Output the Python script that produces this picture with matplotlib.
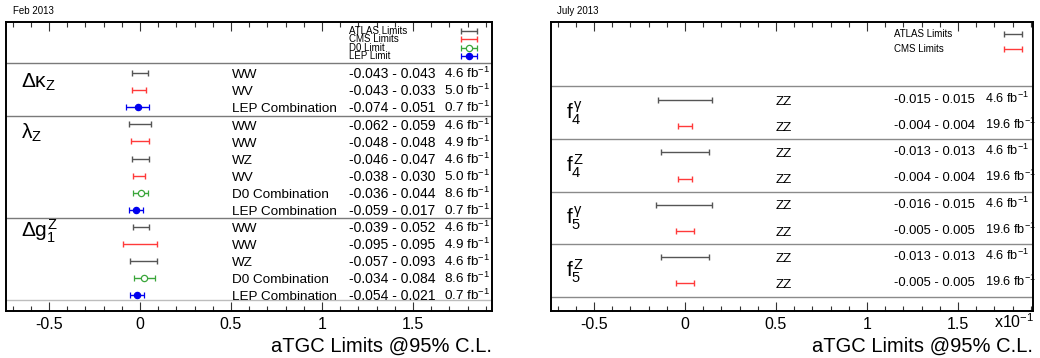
import numpy as np
import matplotlib
matplotlib.use("Agg")
import matplotlib.pyplot as plt
import matplotlib.ticker as tick

plt.rcParams['font.family'] = ['Liberation Sans', 'DejaVu Sans']
plt.rcParams['mathtext.fontset'] = 'custom'
plt.rcParams['mathtext.rm'] = 'Liberation Sans'
plt.rcParams['mathtext.it'] = 'Liberation Sans'
plt.rcParams['mathtext.bf'] = 'Liberation Sans:bold'

# ---- data: left panel (Feb 2013), WWZ couplings ----
left_groups = [r'$\Delta\kappa_{Z}$', r'$\lambda_{Z}$', r'$\Delta g^{Z}_{1}$']
left_group_sizes = [3, 6, 5]
left_exp = ['ATLAS', 'CMS', 'LEP',
            'ATLAS', 'CMS', 'ATLAS', 'CMS', 'D0', 'LEP',
            'ATLAS', 'CMS', 'ATLAS', 'D0', 'LEP']
left_chan = ['WW', 'WV', 'LEP Combination',
             'WW', 'WW', 'WZ', 'WV', 'D0 Combination', 'LEP Combination',
             'WW', 'WW', 'WZ', 'D0 Combination', 'LEP Combination']
left_lo = [-0.043, -0.043, -0.074,
           -0.062, -0.048, -0.046, -0.038, -0.036, -0.059,
           -0.039, -0.095, -0.057, -0.034, -0.054]
left_hi = [0.043, 0.033, 0.051,
           0.059, 0.048, 0.047, 0.030, 0.044, 0.017,
           0.052, 0.095, 0.093, 0.084, 0.021]
left_central = [None, None, -0.011,
                None, None, None, None, 0.004, -0.021,
                None, None, None, 0.024, -0.017]
left_lumi = ['4.6', '5.0', '0.7',
             '4.6', '4.9', '4.6', '5.0', '8.6', '0.7',
             '4.6', '4.9', '4.6', '8.6', '0.7']

# ---- data: right panel (July 2013), ZZ neutral couplings ----
right_groups = [r'$f^{\gamma}_{4}$', r'$f^{Z}_{4}$', r'$f^{\gamma}_{5}$', r'$f^{Z}_{5}$']
right_exp = ['ATLAS', 'CMS'] * 4
right_chan = ['ZZ'] * 8
right_lo = [-0.015, -0.004, -0.013, -0.004, -0.016, -0.005, -0.013, -0.005]
right_hi = [0.015, 0.004, 0.013, 0.004, 0.015, 0.005, 0.013, 0.005]
right_lumi = ['4.6', '19.6'] * 4
right_scale = 10  # axis shown in units of x10^-1

colors = {'ATLAS': '#555555', 'CMS': '#ff3a3a', 'D0': '#3aa63a', 'LEP': '#0000ee'}
markers = {'ATLAS': None, 'CMS': None, 'D0': 'o', 'LEP': 'o'}
legend_names = {'ATLAS': 'ATLAS Limits', 'CMS': 'CMS Limits', 'D0': 'D0 Limit', 'LEP': 'LEP Limit'}

W, H = 1040, 358


def draw_bar(ax, exp, y, lo, hi, central=None, hw_cap=2.4):
    c = colors[exp]
    if central is None:
        ax.errorbar(lo, y, xerr=[[0], [hi - lo]], fmt='none', ecolor=c,
                    elinewidth=1.0, capsize=hw_cap, capthick=1.0)
    else:
        face = 'white' if exp == 'D0' else c
        ax.errorbar(central, y, xerr=[[central - lo], [hi - central]], fmt='o',
                    color=c, mfc=face, mec=c, ms=4.5, mew=0.9,
                    elinewidth=1.0, capsize=hw_cap, capthick=1.0)


def style_axes(ax, xlim, ylim):
    ax.set_xlim(*xlim)
    ax.set_ylim(*ylim)
    ax.set_yticks([])
    ax.xaxis.set_major_locator(tick.MultipleLocator(0.5))
    ax.xaxis.set_minor_locator(tick.MultipleLocator(0.1))
    ax.xaxis.set_major_formatter(tick.FuncFormatter(lambda v, p: f"{v:g}"))
    ax.tick_params(axis='x', which='both', direction='in', top=True, bottom=True,
                   labelsize=11.5, pad=4, color='#333333')
    ax.tick_params(axis='x', which='major', length=6.5, width=0.8)
    ax.tick_params(axis='x', which='minor', length=3.5, width=0.8)
    for s in ax.spines.values():
        s.set_linewidth(1.4)
        s.set_color('black')


fig = plt.figure(figsize=(W / 100, H / 100), dpi=100)

# ---------------- left panel ----------------
axl = fig.add_axes([6 / W, 47 / H, 486 / W, 289 / H])
style_axes(axl, (-0.736, 1.934), (13.93, -3.0))

rows = np.arange(len(left_lo))
for k in rows:
    draw_bar(axl, left_exp[k], k, left_lo[k], left_hi[k], left_central[k])
    yb = k + 0.3
    axl.text(0.505, yb, left_chan[k], fontsize=9.7, va='baseline', ha='left')
    axl.text(1.148, yb, f"{left_lo[k]:.3f} - {left_hi[k]:.3f}", fontsize=10,
             va='baseline', ha='left')
    axl.text(1.670, yb, f"{left_lumi[k]} fb$^{{-1}}$", fontsize=9.7,
             va='baseline', ha='left')

left_label_rows = [0.55, 3.5, 9.25]
for name, ky in zip(left_groups, left_label_rows):
    axl.text(-0.655, ky, name, fontsize=15, va='center', ha='left')

for ky in [-0.59, 2.5, 8.5]:
    axl.axhline(ky, color='#7a7a7a', lw=1.0)
axl.axhline(13.3, color='#bdbdbd', lw=1.0)

for i, exp in enumerate(['ATLAS', 'CMS', 'D0', 'LEP']):
    ky = -2.47 + 0.49 * i
    axl.text(1.148, ky, legend_names[exp], fontsize=7, va='center', ha='left')
    draw_bar(axl, exp, ky, 1.766, 1.854, 1.81 if markers[exp] else None, hw_cap=2.0)

# ---------------- right panel ----------------
axr = fig.add_axes([551 / W, 47 / H, 482 / W, 289 / H])
style_axes(axr, (-0.736, 1.912), (8.05, -2.98))

for k in range(len(right_lo)):
    lo = right_lo[k] * right_scale
    hi = right_hi[k] * right_scale
    draw_bar(axr, right_exp[k], k, lo, hi)
    axr.text(0.5, k + 0.17, right_chan[k], fontsize=9.7, va='baseline', ha='left')
    axr.text(1.148, k + 0.1, f"{right_lo[k]:.3f} - {right_hi[k]:.3f}", fontsize=9.4,
             va='baseline', ha='left')
    axr.text(1.648, k + 0.1, f"{right_lumi[k]} fb$^{{-1}}$", fontsize=9.2,
             va='baseline', ha='left')

for g, name in enumerate(right_groups):
    axr.text(-0.655, 2 * g + 0.52, name, fontsize=15, va='center', ha='left')

for ky in [-0.53, 1.5, 3.5, 5.5, 7.5]:
    axr.axhline(ky, color='#8a8a8a', lw=1.0)

for i, exp in enumerate(['ATLAS', 'CMS']):
    ky = -2.52 + 0.57 * i
    axr.text(1.148, ky, legend_names[exp], fontsize=7, va='center', ha='left')
    draw_bar(axr, exp, ky, 1.75, 1.852, hw_cap=2.0)

# ---------------- figure texts ----------------
fig.text(13 / W, 1 - 11 / H, 'Feb 2013', fontsize=7, va='center', ha='left')
fig.text(557 / W, 1 - 11 / H, 'July 2013', fontsize=7, va='center', ha='left')
fig.text(492 / W, 1 - 346 / H, 'aTGC Limits @95% C.L.', fontsize=14.5,
         va='center', ha='right')
fig.text(1033 / W, 1 - 346 / H, 'aTGC Limits @95% C.L.', fontsize=14.5,
         va='center', ha='right')
fig.text(1034 / W, 1 - 322 / H, r'x10$^{-1}$', fontsize=11.5, va='center', ha='right')

fig.savefig('out.png', dpi=100)
